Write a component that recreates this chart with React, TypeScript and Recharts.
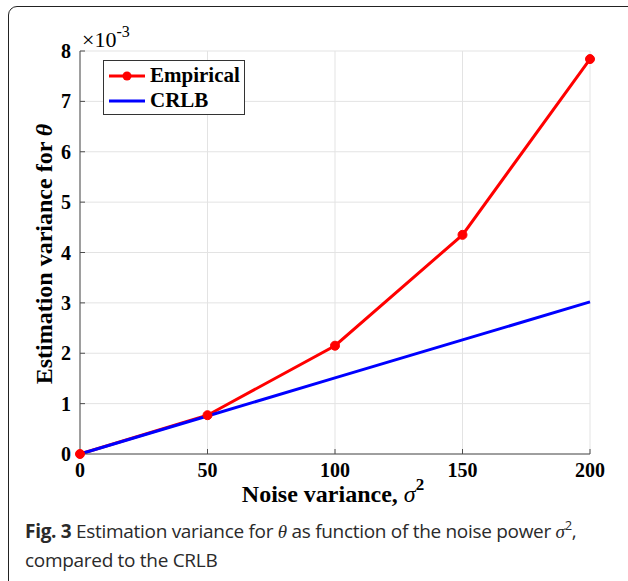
import { LineChart, Line, XAxis, YAxis, CartesianGrid } from 'recharts'

// noise variance sigma^2
const noiseVar = [0, 50, 100, 150, 200]
// estimation variance, in units of 1e-3
const empirical = [0.0, 0.77, 2.15, 4.35, 7.84]
const crlb = [0.0, 0.755, 1.51, 2.265, 3.02]

const xTicks = [0, 50, 100, 150, 200]
const yTicks = [0, 1, 2, 3, 4, 5, 6, 7, 8]

const data = noiseVar.map((x, i) => ({ x, empirical: empirical[i], crlb: crlb[i] }))

const SERIF = '"Liberation Serif", "DejaVu Serif", serif'
const AXIS = '#4d4d4d'

const tickStyle = { fontSize: 20, fontWeight: 700, fontFamily: SERIF, fill: '#000' }

function LegendBox() {
    const row = (color: string, label: string, dot: boolean) => (
        <div style={{ display: 'flex', alignItems: 'center', height: 25 }}>
            <svg width={38} height={12} style={{ marginRight: 4 }}>
                <line x1={1} y1={6} x2={37} y2={6} stroke={color} strokeWidth={3} />
                {dot && <circle cx={19} cy={6} r={4.5} fill={color} />}
            </svg>
            <span>{label}</span>
        </div>
    )
    return (
        <div style={{
            position: 'absolute', left: 103, top: 60,
            border: '1px solid #333', background: '#fff', width: 142, height: 55, boxSizing: 'border-box',
            padding: '2px 0 0 4px', fontFamily: SERIF, fontWeight: 700, fontSize: 21, lineHeight: 1, color: '#000'
        }}>
            {row('#ff0000', 'Empirical', true)}
            {row('#0000ff', 'CRLB', false)}
        </div>
    )
}

export default function App() {
    return (
        <div style={{ position: 'fixed', left: 0, top: 0, width: 628, height: 581, background: '#fff', overflow: 'hidden' }}>
            <div style={{
                position: 'absolute', left: 8, top: 6, width: 660, height: 620,
                border: '1.5px solid #222', borderTopLeftRadius: 9, boxSizing: 'border-box'
            }} />
            <LineChart width={628} height={581} data={data}
                margin={{ top: 51, right: 38, left: 40, bottom: 97 }}
                style={{ position: 'absolute', left: 0, top: 0 }}>
                <CartesianGrid stroke="#e3e3e3" strokeWidth={1} />
                <XAxis dataKey="x" type="number" domain={[0, 200]} ticks={xTicks} height={30}
                    tick={tickStyle} tickSize={-5} tickMargin={14} stroke={AXIS} interval={0} />
                <XAxis xAxisId="top" orientation="top" dataKey="x" type="number" domain={[0, 200]}
                    ticks={xTicks} height={0} tick={false} tickSize={-5} stroke={AXIS} />
                <YAxis type="number" domain={[0, 8]} ticks={yTicks} width={40}
                    tick={tickStyle} tickSize={-5} tickMargin={14} stroke={AXIS} interval={0} />
                <YAxis yAxisId="right" orientation="right" type="number" domain={[0, 8]} ticks={yTicks}
                    width={0} tick={false} tickSize={-5} stroke={AXIS} />
                <Line dataKey="empirical" name="Empirical" stroke="#ff0000" strokeWidth={3}
                    dot={{ r: 4.5, fill: '#ff0000', stroke: '#ff0000', strokeWidth: 1 }} isAnimationActive={false} />
                <Line yAxisId="right" dataKey="crlb" name="CRLB" stroke="#0000ff" strokeWidth={3} dot={false} isAnimationActive={false} />
            </LineChart>

            <LegendBox />

            <div style={{ position: 'absolute', left: 82, top: 29, fontFamily: SERIF, fontSize: 22, color: '#000', lineHeight: 1 }}>
                ×10<sup style={{ fontSize: 16, verticalAlign: 0, position: 'relative', top: -10 }}>-3</sup>
            </div>

            <div style={{
                position: 'absolute', left: 44, top: 254, transform: 'translate(-50%, -50%) rotate(-90deg)',
                whiteSpace: 'nowrap', fontFamily: SERIF, fontWeight: 700, fontSize: 24, color: '#000', lineHeight: 1
            }}>
                Estimation variance for <i>θ</i>
            </div>

            <div style={{
                position: 'absolute', left: 333, top: 482, transform: 'translateX(-50%)',
                whiteSpace: 'nowrap', fontFamily: SERIF, fontWeight: 700, fontSize: 24, color: '#000', lineHeight: 1
            }}>
                Noise variance, <i style={{ fontWeight: 400 }}>σ</i><sup style={{ fontSize: 17, verticalAlign: 0, position: 'relative', top: -12 }}>2</sup>
            </div>

            <div style={{
                position: 'absolute', left: 25, top: 518, width: 600, fontFamily: '"Open Sans", sans-serif',
                fontSize: 19, lineHeight: '27px', color: '#2a2a2a', letterSpacing: -0.3
            }}>
                <b>Fig. 3</b> Estimation variance for <i style={{ fontFamily: SERIF }}>θ</i> as function of the noise power <i style={{ fontFamily: SERIF }}>σ</i><sup style={{ fontSize: 13, verticalAlign: 0, position: 'relative', top: -8 }}>2</sup>,
                <br />compared to the CRLB
            </div>
        </div>
    )
}
